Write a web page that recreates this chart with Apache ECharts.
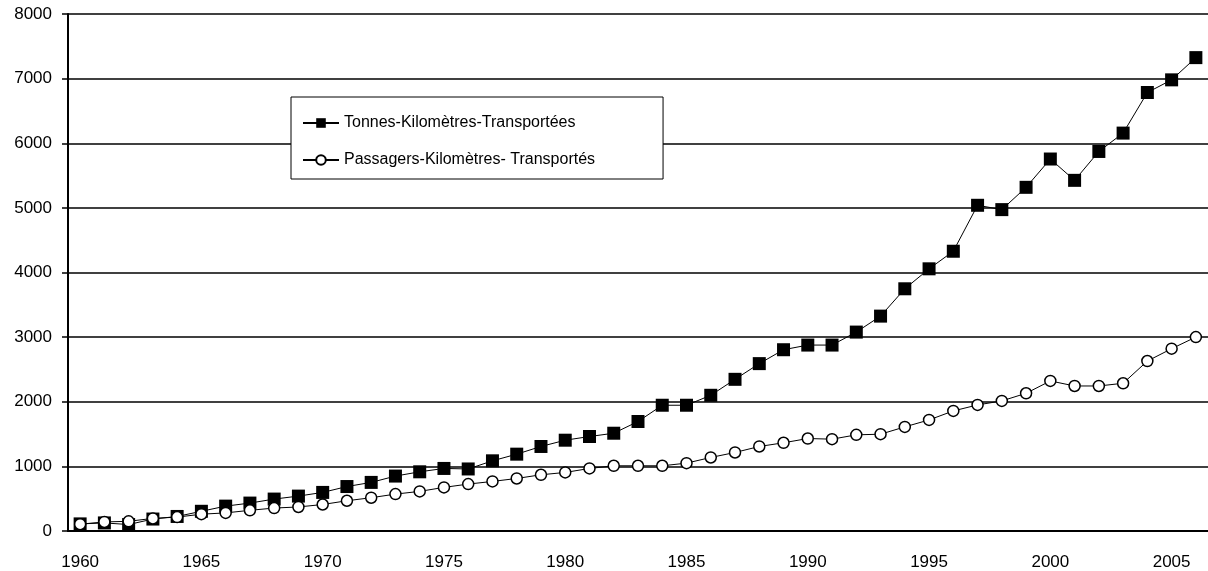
<!DOCTYPE html>
<html>
<head>
<meta charset="utf-8">
<script src="https://cdn.jsdelivr.net/npm/echarts@6/dist/echarts.min.js"></script>
<style>
  html, body { margin: 0; padding: 0; background: #fff; }
  #line-charts { width: 1208px; height: 571px; }
</style>
</head>
<body>
<div id="line-charts"></div>
<script>
var years = [];
for (var y = 1960; y <= 2006; y++) years.push(String(y));

var tonnesName = 'Tonnes-Kilomètres-Transportées';
var passagersName = 'Passagers-Kilomètres- Transportés';

var tonnes = [110, 125, 100, 185, 225, 305, 385, 432, 494, 540,
              597, 688, 752, 850, 916, 968, 960, 1086, 1189, 1308,
              1405, 1462, 1513, 1694, 1946, 1946, 2100, 2347, 2590, 2805,
              2877, 2877, 3078, 3325, 3748, 4057, 4329, 5040, 4973, 5318,
              5756, 5426, 5873, 6157, 6785, 6981, 7325];

var passagers = [105, 140, 150, 195, 215, 260, 280, 320, 355, 372,
                 410, 468, 515, 571, 613, 675, 726, 767, 813, 870,
                 906, 968, 1009, 1009, 1009, 1050, 1138, 1215, 1308, 1365,
                 1431, 1421, 1488, 1498, 1611, 1719, 1858, 1951, 2013, 2131,
                 2322, 2244, 2244, 2286, 2630, 2821, 3001];

var myChart = echarts.init(document.getElementById('line-charts'));
var font = 'Liberation Sans, Arial, sans-serif';

var option = {
  animation: false,
  grid: { left: 68, right: 0, top: 14, bottom: 39 },
  legend: {
    left: 291,
    top: 97,
    orient: 'vertical',
    backgroundColor: '#fff',
    borderColor: '#000',
    borderWidth: 1,
    borderRadius: 0,
    padding: [17, 68, 10, 11],
    itemWidth: 36,
    itemHeight: 12,
    itemGap: 19,
    textStyle: { fontFamily: font, fontSize: 16, color: '#000', lineHeight: 18 },
    data: [tonnesName, passagersName]
  },
  xAxis: {
    type: 'category',
    boundaryGap: true,
    data: years,
    axisLine: { lineStyle: { color: '#000', width: 2 } },
    axisTick: { interval: 0, length: 6, lineStyle: { color: '#000', width: 1.5 } },
    axisLabel: { interval: 4, margin: 23, color: '#000', fontFamily: font, fontSize: 17 }
  },
  yAxis: {
    type: 'value',
    min: 0,
    max: 8000,
    interval: 1000,
    axisLine: { show: true, lineStyle: { color: '#000', width: 2 } },
    axisTick: { show: true, length: 6, lineStyle: { color: '#000', width: 1.5 } },
    axisLabel: {
      margin: 16, color: '#000', fontFamily: font, fontSize: 17,
      formatter: function (v) { return String(v); }
    },
    splitLine: { lineStyle: { color: '#000', width: 1.5 } }
  },
  series: [
    {
      name: tonnesName,
      type: 'line',
      data: tonnes,
      symbol: 'rect',
      symbolSize: 13,
      showAllSymbol: true,
      lineStyle: { color: '#000', width: 1 },
      itemStyle: { color: '#000', borderColor: '#000', borderWidth: 0 }
    },
    {
      name: passagersName,
      type: 'line',
      data: passagers,
      symbol: 'circle',
      symbolSize: 11,
      showAllSymbol: true,
      lineStyle: { color: '#000', width: 1 },
      itemStyle: { color: '#fff', borderColor: '#000', borderWidth: 1.5 }
    }
  ]
};
myChart.setOption(option);
</script>
</body>
</html>
